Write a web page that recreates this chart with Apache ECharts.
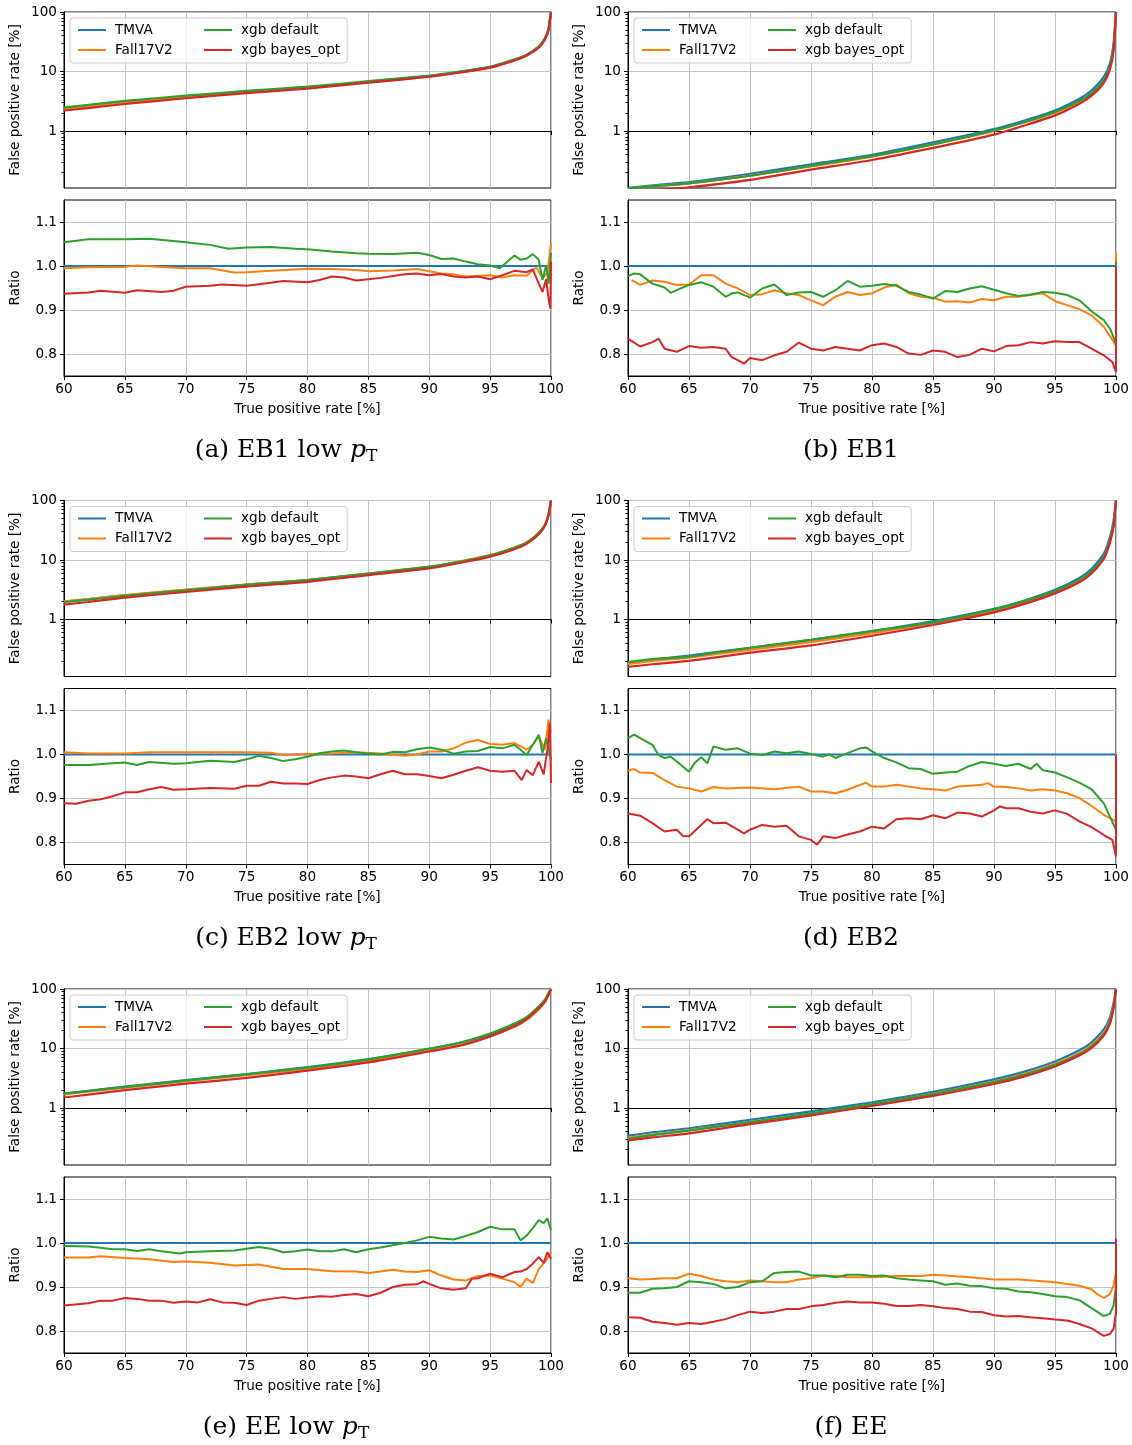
<!DOCTYPE html>
<html>
<head>
<meta charset="utf-8">
<title>ROC TMVA vs xgb</title>
<script src="https://cdn.jsdelivr.net/npm/echarts@6/dist/echarts.min.js"></script>
<style>
html, body { margin: 0; padding: 0; background: #fff; }
#main { width: 1132px; height: 1445px; }
</style>
</head>
<body>
<div id="main"></div>
<script>
// x positions (true positive rate, %) of the ROC curves
var tprTop = [60, 62, 65, 70, 75, 80, 85, 90, 92.5, 95, 97, 98, 99, 99.5, 99.8, 100];

// (a) EB1 low pT - false positive rate [%]
var fprA_tmva  = [2.36, 2.58, 3.02, 3.72, 4.52, 5.36, 6.68, 8.34, 9.87, 12.0, 15.6, 18.9, 26.2, 36, 53, 100];
var fprA_fall  = [2.35, 2.57, 3.01, 3.70, 4.46, 5.33, 6.60, 8.24, 9.65, 11.75, 15.3, 18.5, 25.5, 36, 53, 100];
var fprA_def   = [2.49, 2.74, 3.20, 3.92, 4.71, 5.56, 6.87, 8.55, 10.0, 12.0, 16.0, 19.2, 26.6, 36, 51, 100];
var fprA_bayes = [2.21, 2.43, 2.84, 3.55, 4.32, 5.16, 6.48, 8.16, 9.62, 11.64, 15.4, 18.6, 25.2, 34.2, 49.3, 100];
// (b) EB1
var fprB_tmva  = [0.111, 0.122, 0.138, 0.191, 0.276, 0.397, 0.643, 1.08, 1.50, 2.21, 3.48, 4.83, 8.1, 13.7, 29.8, 100];
var fprB_fall  = [0.107, 0.118, 0.132, 0.178, 0.254, 0.372, 0.597, 0.996, 1.40, 2.03, 3.14, 4.29, 6.98, 11.5, 24.7, 100];
var fprB_def   = [0.108, 0.117, 0.132, 0.177, 0.260, 0.379, 0.595, 1.02, 1.40, 2.08, 3.21, 4.33, 7.10, 11.8, 25.0, 100];
var fprB_bayes = [0.093, 0.101, 0.113, 0.151, 0.224, 0.326, 0.520, 0.871, 1.24, 1.83, 2.88, 3.92, 6.46, 10.8, 22.9, 100];
// (c) EB2 low pT
var fprC_tmva  = [2.0, 2.2, 2.55, 3.15, 3.85, 4.6, 5.9, 7.6, 9.3, 11.8, 15.8, 19.5, 27.5, 38, 56, 100];
var fprC_fall  = [2.01, 2.20, 2.56, 3.17, 3.87, 4.60, 5.92, 7.65, 9.49, 12.1, 16.2, 19.7, 28.6, 39.1, 59.4, 100];
var fprC_def   = [1.95, 2.15, 2.50, 3.09, 3.81, 4.58, 5.91, 7.72, 9.35, 12.0, 16.1, 19.5, 28.7, 38.8, 57.7, 100];
var fprC_bayes = [1.78, 1.97, 2.33, 2.90, 3.58, 4.29, 5.58, 7.23, 8.91, 11.4, 15.2, 18.7, 27.1, 37.6, 58.8, 100];
// (d) EB2
var fprD_tmva  = [0.185, 0.210, 0.248, 0.334, 0.455, 0.637, 0.938, 1.51, 2.09, 3.15, 5.0, 7.1, 12.7, 24.2, 46, 100];
var fprD_fall  = [0.178, 0.201, 0.229, 0.309, 0.417, 0.590, 0.864, 1.40, 1.92, 2.89, 4.51, 6.27, 10.96, 20.7, 39.1, 100];
var fprD_def   = [0.192, 0.215, 0.238, 0.335, 0.455, 0.641, 0.897, 1.48, 2.04, 3.02, 4.68, 6.54, 11.3, 20.8, 38.9, 100];
var fprD_bayes = [0.160, 0.177, 0.202, 0.277, 0.367, 0.533, 0.809, 1.32, 1.83, 2.75, 4.24, 5.93, 10.4, 19.6, 36.3, 100];
// (e) EE low pT
var fprE_tmva  = [1.75, 1.95, 2.28, 2.95, 3.73, 4.85, 6.63, 9.8, 12.4, 17.2, 25.4, 33.0, 48.8, 63, 82, 100];
var fprE_fall  = [1.69, 1.89, 2.20, 2.83, 3.55, 4.56, 6.18, 9.19, 11.4, 15.9, 23.1, 30.3, 45.9, 60.3, 79.5, 100];
var fprE_def   = [1.74, 1.93, 2.25, 2.89, 3.68, 4.78, 6.54, 9.94, 12.5, 17.8, 26.2, 33.6, 51.3, 66.2, 86.6, 100];
var fprE_bayes = [1.50, 1.68, 2.00, 2.56, 3.20, 4.25, 5.83, 8.89, 11.1, 16.0, 23.7, 31.1, 47.2, 61.1, 80.3, 100];
// (f) EE
var fprF_tmva  = [0.343, 0.391, 0.457, 0.634, 0.877, 1.25, 1.87, 3.03, 4.09, 6.05, 9.31, 12.7, 20.9, 33, 59, 100];
var fprF_fall  = [0.316, 0.359, 0.425, 0.580, 0.807, 1.15, 1.74, 2.78, 3.74, 5.51, 8.41, 11.4, 18.3, 29.2, 53.3, 100];
var fprF_def   = [0.304, 0.350, 0.417, 0.578, 0.812, 1.16, 1.71, 2.72, 3.64, 5.32, 8.10, 10.8, 17.4, 27.7, 50.6, 100];
var fprF_bayes = [0.285, 0.321, 0.374, 0.535, 0.751, 1.08, 1.60, 2.53, 3.40, 5.00, 7.60, 10.2, 16.5, 26.2, 47.5, 100];

// ratio to TMVA, [tpr, ratio]
var ratio_tmva = [[60, 1], [100, 1]];

var ratioA_fall = [[60,.995],[62,.997],[65,.998],[66,1.001],[68,.998],[70,.995],[72,.995],[74,.985],[75,.986],[77,.989],[80,.994],[82,.993],[84,.991],[85,.988],[87,.990],[89,.993],[90,.988],[91,.983],[92,.981],[93,.976],[95,.979],[96,.974],[97,.979],[98,.978],[98.8,.998],[99.3,.972],[99.7,.985],[100,1.052]];
var ratioA_def = [[60,1.054],[62,1.061],[65,1.061],[67,1.062],[69,1.057],[70,1.054],[72,1.048],[73.5,1.039],[75,1.042],[77,1.043],[79,1.039],[80,1.038],[82,1.033],[84,1.029],[85,1.028],[87,1.027],[89,1.030],[90,1.025],[91,1.016],[92,1.017],[93,1.010],[94,1.004],[95,1.001],[95.8,.995],[96.5,1.012],[97,1.024],[97.5,1.014],[98,1.017],[98.5,1.027],[99,1.014],[99.3,.968],[99.6,1.002],[99.8,.960],[100,1.03]];
var ratioA_bayes = [[60,.937],[62,.940],[63,.944],[65,.939],[66,.945],[68,.941],[69,.944],[70,.953],[72,.955],[73,.958],[75,.955],[77,.962],[78,.966],[80,.963],[81,.968],[82,.976],[83,.974],[84,.967],[85,.970],[86,.973],[88,.981],[89,.983],[90,.979],[91,.982],[92,.976],[93,.974],[94,.976],[95,.970],[96,.979],[97,.989],[98,.986],[98.5,.992],[99,.960],[99.3,.941],[99.6,.970],[99.8,.926],[99.95,.903],[100,1.01]];

var ratioB_fall = [[60.3,.968],[61,.957],[62,.967],[63,.964],[64,.957],[65,.958],[66,.979],[67,.979],[68,.960],[69,.949],[70,.934],[71,.936],[72,.945],[73,.938],[74,.934],[75,.922],[76,.911],[77,.930],[78,.941],[79,.934],[80,.938],[81,.951],[82,.958],[83,.938],[84,.930],[85,.928],[86,.919],[87,.920],[88,.917],[89,.925],[90,.922],[91,.930],[92,.930],[93,.934],[94,.938],[95,.920],[96,.911],[97,.902],[98,.888],[99,.862],[100,.820],[100,1.03]];
var ratioB_def = [[60,.977],[60.5,.983],[61,.981],[62,.960],[63,.951],[63.5,.939],[64,.945],[65,.957],[66,.963],[67,.953],[68,.930],[68.5,.938],[69,.940],[70,.928],[71,.949],[72,.958],[73,.934],[74,.940],[75,.941],[76,.930],[77,.945],[78,.966],[79,.953],[80,.955],[81,.959],[82,.955],[83,.941],[84,.935],[85,.926],[86,.943],[87,.941],[88,.949],[89,.954],[90,.946],[91,.938],[92,.932],[93,.935],[94,.941],[95,.939],[96,.934],[97,.922],[98,.897],[99,.877],[99.5,.858],[100,.824],[100,1.01]];
var ratioB_bayes = [[60,.835],[61,.817],[62,.827],[62.5,.835],[63,.812],[64,.805],[65,.818],[66,.814],[67,.816],[68,.812],[68.5,.793],[69,.786],[69.5,.778],[70,.791],[71,.786],[72,.797],[73,.805],[74,.826],[75,.812],[76,.808],[77,.816],[78,.812],[79,.808],[80,.820],[81,.824],[82,.816],[83,.801],[84,.798],[85,.808],[86,.805],[87,.793],[88,.798],[89,.812],[90,.806],[91,.818],[92,.820],[93,.827],[94,.824],[95,.829],[96,.827],[97,.827],[98,.812],[99,.797],[99.7,.782],[100,.759],[100,1.0]];

var ratioC_fall = [[60,1.005],[62,1.002],[65,1.002],[67,1.005],[70,1.005],[72,1.005],[75,1.005],[77,1.004],[78,.999],[80,1.001],[82,1.002],[84,1.005],[86,1.002],[88,.997],[89,1.0],[90,1.007],[91,1.007],[92,1.014],[93,1.027],[94,1.033],[95,1.024],[96,1.022],[97,1.026],[98,1.011],[98.5,1.022],[99,1.041],[99.5,1.011],[99.8,1.079],[100,1.049]];
var ratioC_def = [[60,.976],[62,.976],[64,.980],[65,.982],[66,.976],[67,.983],[69,.979],[70,.980],[72,.986],[74,.983],[75,.989],[76,.997],[77,.992],[78,.985],[79,.989],[80,.995],[81,1.003],[82,1.007],[83,1.009],[84,1.005],[85,1.002],[86,1.0],[87,1.006],[88,1.005],[89,1.012],[90,1.016],[91,1.011],[92,1.002],[93,1.007],[94,1.008],[95,1.017],[96,1.014],[97,1.022],[97.5,1.011],[98,.999],[98.5,1.022],[99,1.045],[99.3,1.003],[99.6,1.037],[100,.988]];
var ratioC_bayes = [[60,.889],[61,.888],[62,.895],[63,.898],[64,.905],[65,.914],[66,.914],[67,.921],[68,.926],[69,.920],[70,.921],[72,.924],[74,.922],[75,.929],[76,.929],[77,.938],[78,.934],[79,.934],[80,.933],[81,.942],[82,.948],[83,.952],[84,.950],[85,.946],[86,.955],[87,.963],[88,.955],[89,.955],[90,.951],[91,.946],[92,.954],[93,.963],[94,.971],[95,.963],[96,.961],[97,.963],[97.6,.942],[98,.965],[98.5,.953],[99,.984],[99.4,.955],[99.7,1.011],[99.9,1.071],[100,.935]];

var ratioD_fall = [[60,.963],[60.5,.967],[61,.959],[62,.958],[63,.942],[64,.927],[65,.923],[66,.916],[67,.926],[68,.923],[70,.925],[72,.921],[74,.927],[75,.916],[76,.916],[77,.912],[78,.920],[79.5,.936],[80,.927],[81,.927],[82,.931],[84,.923],[85,.921],[86,.918],[87,.927],[88,.929],[89,.931],[89.5,.935],[90,.927],[91,.926],[92,.923],[93,.918],[94,.921],[95,.918],[96,.912],[97,.901],[98,.883],[99,.863],[100,.848],[100,1.0]];
var ratioD_def = [[60,1.037],[60.5,1.045],[61,1.037],[62,1.022],[62.5,.999],[63,.992],[63.5,.995],[64,.984],[65,.961],[65.5,.982],[66,.994],[66.5,.980],[67,1.018],[68,1.011],[69,1.014],[70,1.002],[71,.999],[72,1.007],[73,1.003],[74,1.007],[75,1.001],[76,.995],[76.5,1.001],[77,.992],[78,1.003],[79,1.014],[79.5,1.016],[80,1.007],[81,.992],[82,.982],[83,.969],[84,.967],[85,.956],[86,.959],[87,.961],[88,.974],[89,.983],[90,.979],[91,.974],[92,.979],[93,.967],[93.5,.979],[94,.964],[95,.959],[96,.948],[97,.936],[98,.921],[99,.889],[100,.829],[100,1.0]];
var ratioD_bayes = [[60,.866],[61,.861],[62,.844],[63,.825],[64,.829],[64.5,.815],[65,.814],[66,.840],[66.5,.853],[67,.844],[68,.845],[69,.829],[69.5,.821],[70,.829],[71,.840],[72,.836],[73,.838],[74,.814],[75,.806],[75.5,.795],[76,.814],[77,.810],[78,.818],[79,.825],[80,.836],[81,.832],[82,.853],[83,.855],[84,.853],[85,.862],[86,.855],[87,.868],[88,.866],[89,.859],[90,.873],[90.5,.882],[91,.878],[92,.878],[93,.870],[94,.866],[95,.873],[96,.865],[97,.848],[98,.835],[99,.817],[99.7,.806],[100,.768],[100,1.0]];

var ratioE_fall = [[60,.967],[62,.967],[63,.970],[65,.966],[67,.963],[69,.957],[70,.958],[72,.955],[74,.949],[76,.951],[77,.946],[78,.941],[80,.941],[82,.936],[84,.935],[85,.932],[86,.935],[87,.939],[88,.935],[89,.934],[90,.938],[91,.926],[92,.917],[93,.915],[94,.925],[95,.926],[96,.919],[97,.911],[97.5,.900],[98,.919],[98.5,.909],[99,.941],[99.5,.957],[100,.979]];
var ratioE_def = [[60,.993],[62,.992],[63,.989],[64,.986],[65,.986],[66,.982],[67,.986],[68,.981],[69.5,.976],[70,.979],[72,.981],[74,.983],[75,.987],[76,.991],[77,.987],[78,.979],[79,.981],[80,.985],[81,.981],[82,.981],[83,.986],[84,.979],[85,.986],[86,.990],[87,.995],[88,1.0],[89,1.006],[90,1.014],[91,1.010],[92,1.008],[93,1.016],[94,1.025],[95,1.037],[96,1.031],[97,1.031],[97.5,1.006],[98,1.017],[98.5,1.034],[99,1.052],[99.4,1.045],[99.7,1.056],[100,1.029]];
var ratioE_bayes = [[60,.858],[62,.863],[63,.869],[64,.869],[65,.875],[66,.873],[67,.869],[68,.869],[69,.864],[70,.867],[71,.865],[72,.872],[73,.865],[74,.864],[75,.859],[76,.869],[77,.873],[78,.877],[79,.873],[80,.876],[81,.879],[82,.878],[83,.882],[84,.884],[85,.879],[86,.887],[87,.900],[88,.905],[89,.906],[89.5,.913],[90,.907],[91,.897],[92,.894],[93,.897],[93.5,.919],[94,.920],[95,.930],[96,.922],[97,.934],[97.5,.935],[98,.941],[98.5,.953],[99,.968],[99.4,.955],[99.7,.979],[100,.964]];

var ratioF_fall = [[60,.920],[61,.917],[62,.918],[63,.920],[64,.920],[65,.930],[66,.925],[67,.917],[68,.913],[69,.911],[70,.915],[71,.913],[72,.911],[73,.911],[74,.917],[75,.920],[76,.926],[77,.925],[78,.922],[80,.922],[82,.925],[84,.925],[85,.928],[86,.926],[88,.922],[90,.917],[92,.917],[94,.913],[95,.911],[96,.907],[97,.903],[98,.895],[98.5,.883],[99,.875],[99.5,.884],[99.8,.903],[100,.934],[100,1.0]];
var ratioF_def = [[60,.887],[61,.887],[62,.896],[63,.897],[64,.900],[65,.913],[66,.911],[67,.907],[68,.897],[69,.900],[70,.911],[71,.913],[72,.932],[73,.934],[74,.935],[75,.926],[76,.926],[77,.922],[78,.928],[79,.928],[80,.925],[81,.926],[82,.920],[83,.917],[84,.915],[85,.913],[86,.905],[87,.908],[88,.903],[89,.902],[90,.897],[91,.896],[92,.890],[93,.888],[94,.884],[95,.879],[96,.877],[97,.870],[98,.852],[99,.834],[99.5,.839],[99.8,.858],[100,.903],[100,1.0]];
var ratioF_bayes = [[60,.831],[61,.830],[62,.821],[63,.818],[64,.814],[65,.818],[66,.816],[67,.821],[68,.827],[69,.836],[70,.844],[71,.841],[72,.844],[73,.850],[74,.850],[75,.856],[76,.859],[77,.864],[78,.867],[79,.865],[80,.865],[81,.862],[82,.857],[83,.857],[84,.859],[85,.856],[86,.852],[87,.850],[88,.844],[89,.843],[90,.836],[91,.833],[92,.834],[93,.831],[94,.829],[95,.826],[96,.824],[97,.816],[98,.806],[99,.789],[99.5,.793],[99.8,.805],[100,.842],[100,1.01]];

// tick labels
var xTicks = [60, 65, 70, 75, 80, 85, 90, 95, 100];
var fprTickLabels = [1, 10, 100];
var ratioTickLabels = [0.8, 0.9, 1.0, 1.1];

var names = ['TMVA', 'Fall17V2', 'xgb default', 'xgb bayes_opt'];
var colors = ['#1f77b4', '#ff7f0e', '#2ca02c', '#d62728'];

var panels = [
    { fpr: [fprA_tmva, fprA_fall, fprA_def, fprA_bayes], ratio: [ratio_tmva, ratioA_fall, ratioA_def, ratioA_bayes], label: '(a) EB1 low', pt: true },
    { fpr: [fprB_tmva, fprB_fall, fprB_def, fprB_bayes], ratio: [ratio_tmva, ratioB_fall, ratioB_def, ratioB_bayes], label: '(b) EB1', pt: false },
    { fpr: [fprC_tmva, fprC_fall, fprC_def, fprC_bayes], ratio: [ratio_tmva, ratioC_fall, ratioC_def, ratioC_bayes], label: '(c) EB2 low', pt: true },
    { fpr: [fprD_tmva, fprD_fall, fprD_def, fprD_bayes], ratio: [ratio_tmva, ratioD_fall, ratioD_def, ratioD_bayes], label: '(d) EB2', pt: false },
    { fpr: [fprE_tmva, fprE_fall, fprE_def, fprE_bayes], ratio: [ratio_tmva, ratioE_fall, ratioE_def, ratioE_bayes], label: '(e) EE low', pt: true },
    { fpr: [fprF_tmva, fprF_fall, fprF_def, fprF_bayes], ratio: [ratio_tmva, ratioF_fall, ratioF_def, ratioF_bayes], label: '(f) EE', pt: false }
];

// layout
var colLeft = [64, 628], colWidth = [487, 488];
var rowTop = [12, 500.5, 989];
var plotH = 176, ratioOffset = 188;
var captionX = [286, 851], captionY = [450, 938, 1427];

var gridColor = '#c4c4c4';
var tickFont = { fontSize: 13.6, fontFamily: 'DejaVu Sans', color: '#000' };
var logMin = 2 - plotH / 59.5;  // log10 of the lower FPR limit (~0.11 %)
var logTicks = fprTickLabels.map(function (v) { return Math.log10(v); });

// minor ticks of the log axis (2..9 in each decade)
var minorTicks = [];
[-1, 0, 1].forEach(function (d) {
    for (var k = 2; k < 10; k++) {
        var v = d + Math.log10(k);
        if (v > logMin) minorTicks.push(v);
    }
});

var option = {
    animation: false,
    backgroundColor: '#fff',
    textStyle: { fontFamily: 'DejaVu Sans' },
    grid: [], xAxis: [], yAxis: [], series: [], legend: [], graphic: []
};

function xAxisFor(gridIndex, withLabels) {
    return {
        gridIndex: gridIndex, type: 'value', min: 60, max: 100, interval: 5,
        axisLine: { lineStyle: { color: '#000', width: 1 } },
        axisTick: { length: 4, lineStyle: { color: '#000' } },
        axisLabel: Object.assign({ show: withLabels, margin: 6 }, tickFont),
        splitLine: { show: true, lineStyle: { color: gridColor, width: 1 } },
        name: withLabels ? 'True positive rate [%]' : '',
        nameLocation: 'middle', nameGap: 26,
        nameTextStyle: tickFont
    };
}

panels.forEach(function (pn, p) {
    var row = Math.floor(p / 2), col = p % 2;
    var left = colLeft[col], w = colWidth[col], t = rowTop[row];
    var gTop = 2 * p, gRatio = 2 * p + 1;

    option.grid.push({ left: left, top: t, width: w, height: plotH, show: true, borderColor: '#000', borderWidth: 1, outerBoundsMode: 'none' });
    option.grid.push({ left: left, top: t + ratioOffset, width: w, height: plotH, show: true, borderColor: '#000', borderWidth: 1, outerBoundsMode: 'none' });

    option.xAxis.push(xAxisFor(gTop, false));
    option.xAxis.push(xAxisFor(gRatio, true));

    // log-scale FPR axis
    var yTopIdx = option.yAxis.length;
    option.yAxis.push({
        gridIndex: gTop, type: 'value', min: logMin, max: 2,
        axisLine: { lineStyle: { color: '#000', width: 1 } },
        axisTick: { customValues: logTicks, length: 4, lineStyle: { color: '#000' } },
        axisLabel: Object.assign({
            customValues: logTicks, margin: 7,
            formatter: function (v) { return String(Math.round(Math.pow(10, v))); }
        }, tickFont),
        splitLine: { show: true, lineStyle: { color: gridColor, width: 1 } },
        name: 'False positive rate [%]', nameLocation: 'middle', nameGap: 42,
        nameTextStyle: tickFont
    });
    // minor ticks only
    option.yAxis.push({
        gridIndex: gTop, type: 'value', min: logMin, max: 2, position: 'left',
        axisLine: { show: false },
        axisTick: { customValues: minorTicks, length: 2.5, lineStyle: { color: '#000' } },
        axisLabel: { show: false },
        splitLine: { show: false }
    });
    var yRatioIdx = option.yAxis.length;
    option.yAxis.push({
        gridIndex: gRatio, type: 'value', min: 0.75, max: 1.15,
        axisLine: { lineStyle: { color: '#000', width: 1 } },
        axisTick: { customValues: ratioTickLabels, length: 4, lineStyle: { color: '#000' } },
        axisLabel: Object.assign({
            customValues: ratioTickLabels, margin: 7,
            formatter: function (v) { return v.toFixed(1); }
        }, tickFont),
        splitLine: { show: true, lineStyle: { color: gridColor, width: 1 } },
        name: 'Ratio', nameLocation: 'middle', nameGap: 42,
        nameTextStyle: tickFont
    });

    for (var k = 0; k < 4; k++) {
        var fpr = pn.fpr[k];
        option.series.push({
            type: 'line', name: names[k], xAxisIndex: gTop, yAxisIndex: yTopIdx,
            data: tprTop.map(function (x, i) { return [x, Math.log10(fpr[i])]; }),
            symbol: 'none', smooth: 0.2, silent: true, z: 2 + k,
            lineStyle: { color: colors[k], width: 2.2 }, itemStyle: { color: colors[k] }
        });
        option.series.push({
            type: 'line', name: names[k], xAxisIndex: gRatio, yAxisIndex: yRatioIdx,
            data: pn.ratio[k],
            symbol: 'none', silent: true, z: 2 + k,
            lineStyle: { color: colors[k], width: k === 0 ? 2.2 : 2 }, itemStyle: { color: colors[k] }
        });
    }

    option.legend.push({
        left: left + 6, top: t + 6, orient: 'horizontal', width: 290,
        itemGap: 6, itemWidth: 28, itemHeight: 14,
        padding: [5, 7, 6, 7],
        backgroundColor: 'rgba(255,255,255,0.8)', borderColor: '#cccccc', borderWidth: 1, borderRadius: 3,
        selectedMode: false,
        itemStyle: { opacity: 0 },
        lineStyle: { width: 2 },
        textStyle: { fontSize: 13.6, fontFamily: 'DejaVu Sans', color: '#000', lineHeight: 14, padding: [0, 0, 0, 4] },
        data: [
            { name: 'TMVA', textStyle: { width: 82 } },
            { name: 'xgb default' },
            { name: 'Fall17V2', textStyle: { width: 82 } },
            { name: 'xgb bayes_opt' }
        ]
    });

    // sub-figure caption
    option.graphic.push({
        type: 'text', x: captionX[col], y: captionY[row],
        style: {
            text: pn.pt ? '{n|' + pn.label + ' }{i|p}{s|T}' : '{n|' + pn.label + '}',
            rich: {
                n: { fontSize: 25, fontFamily: 'DejaVu Serif', fill: '#000' },
                i: { fontSize: 25, fontFamily: 'DejaVu Serif', fontStyle: 'italic', fill: '#000' },
                s: { fontSize: 17, fontFamily: 'DejaVu Serif', fill: '#000', padding: [14, 0, 0, 0] }
            },
            align: 'center', verticalAlign: 'middle', fill: '#000'
        }
    });
});

var myChart = echarts.init(document.getElementById('main'));
myChart.setOption(option);
</script>
</body>
</html>
